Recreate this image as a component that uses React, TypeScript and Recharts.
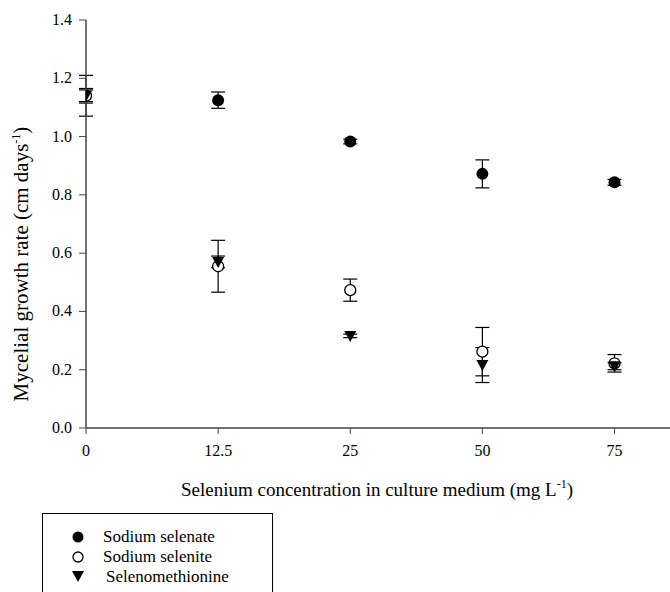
import { ErrorBar, Label, Legend, Scatter, ScatterChart, XAxis, YAxis } from "recharts";

const concLabels = ["0", "12.5", "25", "50", "75"];
const seriesNames = ["Sodium selenate", "Sodium selenite", "Selenomethionine"];

const selenate = [1.14, 1.125, 0.983, 0.872, 0.843];
const selenateErr = [0.07, 0.028, 0.008, 0.048, 0.01];
const selenite = [1.14, 0.555, 0.473, 0.262, 0.222];
const seleniteErr = [0.025, 0.089, 0.038, 0.083, 0.03];
const selenomet = [1.14, 0.57, 0.316, 0.216, 0.212];
const selenometErr = [0.02, 0.02, 0.006, 0.06, 0.012];

const yTicks = [0, 0.2, 0.4, 0.6, 0.8, 1.0, 1.2, 1.4];

const serif = "Liberation Serif";
const ink = "#000";
const axisColor = "#444";

const rows = (vals: number[], errs: number[]) => vals.map((v, i) => ({ x: i, y: v, err: errs[i] }));

const filledDot = (p: any) => <circle cx={p.cx} cy={p.cy} r={6} fill={ink} />;
const openDot = (p: any) => <circle cx={p.cx} cy={p.cy} r={5.5} fill="#fff" stroke={ink} strokeWidth={1.3} />;
const downTri = (p: any) => (
  <path d={`M${p.cx - 6},${p.cy - 5}L${p.cx + 6},${p.cy - 5}L${p.cx},${p.cy + 6}Z`} fill={ink} />
);

const XTick = (p: any) => (
  <text x={p.x} y={p.y + 14} textAnchor="middle" fontSize={16} fill={ink} fontFamily={serif}>
    {concLabels[p.payload.value]}
  </text>
);

const YTick = (p: any) => (
  <text x={p.x} y={p.y + 5} textAnchor="end" fontSize={16} fill={ink} fontFamily={serif}>
    {p.payload.value.toFixed(1)}
  </text>
);

const yTitle = () => (
  <text x={28} y={264} transform="rotate(-90 28 264)" textAnchor="middle" fontSize={21} fill={ink} fontFamily={serif}>
    <tspan>Mycelial growth rate (cm days</tspan>
    <tspan dy={-8} fontSize={12}>-1</tspan>
    <tspan dy={8}>)</tspan>
  </text>
);

const xTitle = () => (
  <text x={377} y={496} textAnchor="middle" fontSize={19} fill={ink} fontFamily={serif}>
    <tspan>Selenium concentration in culture medium (mg L</tspan>
    <tspan dy={-8} fontSize={12}>-1</tspan>
    <tspan dy={8}>)</tspan>
  </text>
);

const legendMarks = [
  <circle cx={36} cy={24} r={5.5} fill={ink} />,
  <circle cx={36} cy={44} r={5} fill="#fff" stroke={ink} strokeWidth={1.3} />,
  <path d="M30,58L42,58L36,69Z" fill={ink} />,
];

const legendBox = () => (
  <svg width={231} height={80} style={{ display: "block" }}>
    <rect x={0.5} y={0.5} width={230} height={90} fill="#fff" stroke={ink} strokeWidth={1} />
    {seriesNames.map((n, i) => (
      <g key={n}>
        {legendMarks[i]}
        <text x={i === 2 ? 64 : 61} y={29 + i * 20} fontSize={17} fill={ink} fontFamily={serif}>
          {n}
        </text>
      </g>
    ))}
  </svg>
);

export default function App() {
  return (
    <div style={{ position: "absolute", left: 0, top: 0, width: 670, height: 592, background: "#fff", overflow: "hidden" }}>
      <ScatterChart width={670} height={592} margin={{ top: 20, right: 0, bottom: 0, left: 0 }}>
        <XAxis
          type="number"
          dataKey="x"
          domain={[0, 4.42]}
          ticks={[0, 1, 2, 3, 4]}
          allowDataOverflow
          height={164}
          tickSize={6}
          tickMargin={8}
          tick={XTick}
          axisLine={{ stroke: axisColor, strokeWidth: 1.5 }}
          tickLine={{ stroke: axisColor }}
        >
          <Label content={xTitle} />
        </XAxis>
        <YAxis
          type="number"
          dataKey="y"
          domain={[0, 1.4]}
          ticks={yTicks}
          width={86}
          tickSize={7}
          tickMargin={7}
          tick={YTick}
          axisLine={{ stroke: axisColor, strokeWidth: 1.5 }}
          tickLine={{ stroke: axisColor }}
        >
          <Label content={yTitle} />
        </YAxis>
        <Legend
          layout="vertical"
          align="center"
          verticalAlign="middle"
          content={legendBox}
          wrapperStyle={{ position: "absolute", left: 42, top: 513, width: 231 }}
        />
        <Scatter name={seriesNames[0]} data={rows(selenate, selenateErr)} shape={filledDot} isAnimationActive={false}>
          <ErrorBar dataKey="err" direction="y" width={7} stroke={ink} strokeWidth={1.2} />
        </Scatter>
        <Scatter name={seriesNames[1]} data={rows(selenite, seleniteErr)} shape={openDot} isAnimationActive={false}>
          <ErrorBar dataKey="err" direction="y" width={7} stroke={ink} strokeWidth={1.2} />
        </Scatter>
        <Scatter name={seriesNames[2]} data={rows(selenomet, selenometErr)} shape={downTri} isAnimationActive={false}>
          <ErrorBar dataKey="err" direction="y" width={7} stroke={ink} strokeWidth={1.2} />
        </Scatter>
      </ScatterChart>
    </div>
  );
}
